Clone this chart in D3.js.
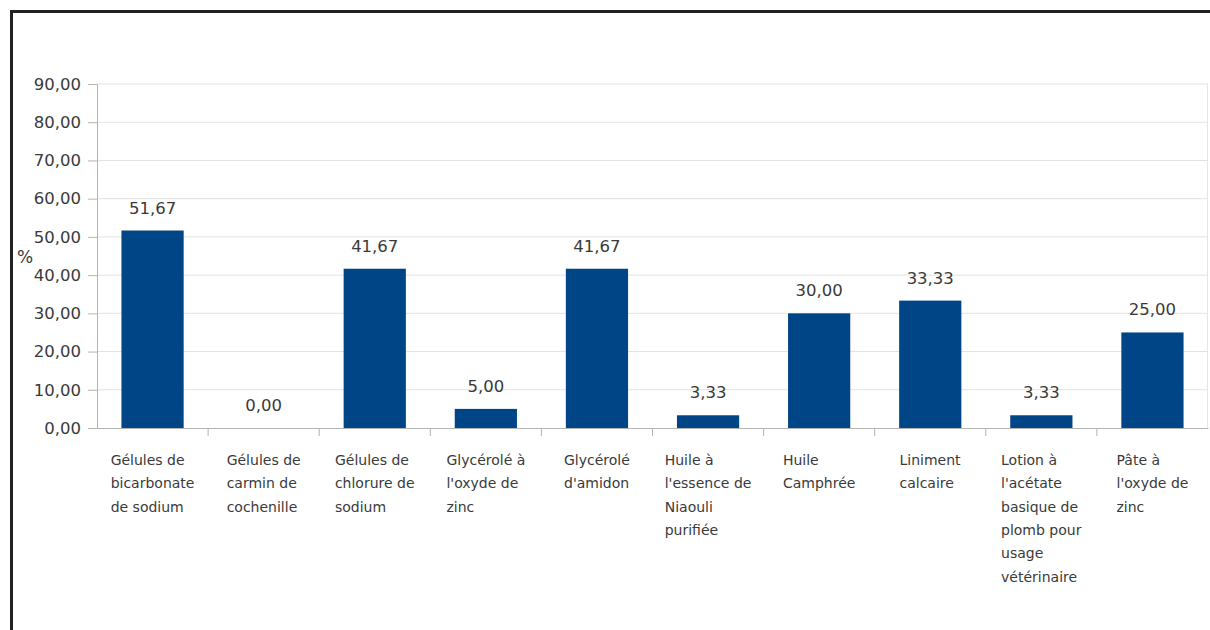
<!DOCTYPE html>
<html>
<head>
<meta charset="utf-8">
<script src="https://cdn.jsdelivr.net/npm/d3@7"></script>
<style>
  html, body { margin: 0; padding: 0; background: #fff; }
  svg { display: block; }
  text { font-family: "DejaVu Sans", Verdana, sans-serif; }
</style>
</head>
<body>
<svg id="chart" width="1210" height="630"></svg>
<script>
const categories = [
  ["Gélules de", "bicarbonate", "de sodium"],
  ["Gélules de", "carmin de", "cochenille"],
  ["Gélules de", "chlorure de", "sodium"],
  ["Glycérolé à", "l'oxyde de", "zinc"],
  ["Glycérolé", "d'amidon"],
  ["Huile à", "l'essence de", "Niaouli", "purifiée"],
  ["Huile", "Camphrée"],
  ["Liniment", "calcaire"],
  ["Lotion à", "l'acétate", "basique de", "plomb pour", "usage", "vétérinaire"],
  ["Pâte à", "l'oxyde de", "zinc"]
];
const values = [51.67, 0.00, 41.67, 5.00, 41.67, 3.33, 30.00, 33.33, 3.33, 25.00];
const yTicks = [0, 10, 20, 30, 40, 50, 60, 70, 80, 90];
const yAxisTitle = "%";

(function () {
const svg = d3.select("#chart");
const pL = 97, pR = 1208, pT = 84, pB = 428;
const FONT = "DejaVu Sans, Verdana, sans-serif";

// frame
svg.append("path")
  .attr("d", `M11.5,630 L11.5,11.5 L1210,11.5`)
  .attr("fill", "none").attr("stroke", "#222").attr("stroke-width", 3);

const x = d3.scaleBand().domain(d3.range(categories.length)).range([pL, pR]).paddingInner(0.44).paddingOuter(0.22);
const xb = d3.scaleBand().domain(d3.range(categories.length)).range([pL, pR]);
const y = d3.scaleLinear().domain([0, 90]).range([pB, pT]);

const fmt = v => v.toFixed(2).replace(".", ",");

// gridlines
svg.append("g").selectAll("line").data(yTicks.filter(d => d > 0)).join("line")
  .attr("x1", pL).attr("x2", pR)
  .attr("y1", d => y(d)).attr("y2", d => y(d))
  .attr("stroke", "#e2e2e2").attr("stroke-width", 1);

// right plot edge
svg.append("line").attr("x1", pR - 0.5).attr("x2", pR - 0.5).attr("y1", pT).attr("y2", pB)
  .attr("stroke", "#e6e6e6");

// y axis
const yAxis = d3.axisLeft(y).tickValues(yTicks).tickFormat(fmt).tickSize(9).tickPadding(7);
const gy = svg.append("g").attr("transform", `translate(${pL},0)`).call(yAxis);
gy.select(".domain").attr("stroke", "#b3b3b3");
gy.selectAll(".tick line").attr("stroke", "#b3b3b3");
gy.selectAll(".tick text").attr("fill", "#3a3a3a").style("font-size", "16.5px").attr("font-family", FONT);

svg.append("text").attr("x", 25).attr("y", 263).attr("text-anchor", "middle")
  .attr("fill", "#3a3a3a").style("font-size", "17px").text(yAxisTitle);

// bars
svg.append("g").selectAll("rect").data(values).join("rect")
  .attr("x", (d, i) => x(i)).attr("width", x.bandwidth())
  .attr("y", d => y(d)).attr("height", d => y(0) - y(d))
  .attr("fill", "#004586");

// value labels
svg.append("g").selectAll("text").data(values).join("text")
  .attr("x", (d, i) => x(i) + x.bandwidth() / 2)
  .attr("y", d => y(d) - 17)
  .attr("text-anchor", "middle").attr("fill", "#3a3a3a").style("font-size", "16.5px")
  .text(fmt);

// x axis
const xAxis = d3.axisBottom(xb).tickSize(0).tickFormat("");
const gx = svg.append("g").attr("transform", `translate(0,${pB})`).call(xAxis);
gx.select(".domain").attr("stroke", "#b3b3b3");
gx.selectAll(".tick").remove();
svg.append("g").selectAll("line").data(d3.range(1, categories.length)).join("line")
  .attr("x1", i => xb(i)).attr("x2", i => xb(i))
  .attr("y1", pB).attr("y2", pB + 8)
  .attr("stroke", "#b3b3b3");

// category labels: block centered in band, lines left-aligned
const catG = svg.append("g").selectAll("g").data(categories).join("g");
catG.each(function (lines, i) {
  const g = d3.select(this);
  const t = g.append("text").attr("fill", "#3a3a3a").style("font-size", "14px");
  lines.forEach((ln, k) => {
    t.append("tspan").attr("x", 0).attr("y", 465 + k * 23.3).text(ln);
  });
  const w = t.node().getBBox().width;
  const cx = xb(i) + xb.bandwidth() / 2;
  g.attr("transform", `translate(${cx - w / 2},0)`);
});
})();
</script>
</body>
</html>
